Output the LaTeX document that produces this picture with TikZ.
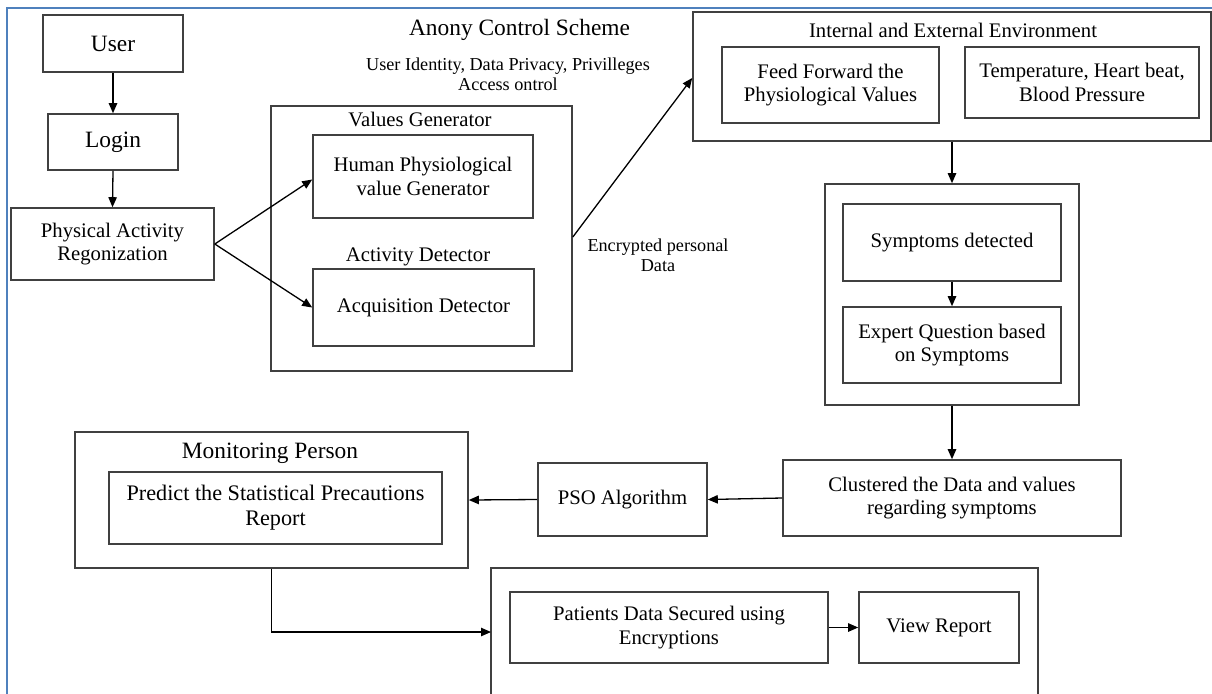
\documentclass[tikz,border=0pt]{standalone}
\usepackage{fontspec}
\setmainfont{Liberation Serif}
\usetikzlibrary{arrows.meta,calc}
\newcommand\fntbase{\fontsize{10.35pt}{11.7pt}\selectfont}
\newcommand\fntbig{\fontsize{11.7pt}{12.5pt}\selectfont}
\newcommand\fntpred{\fontsize{11.1pt}{12.5pt}\selectfont}
\newcommand\fntsmall{\fontsize{9.1pt}{10pt}\selectfont}
\definecolor{frameblue}{RGB}{79,129,189}
\begin{document}
\begin{tikzpicture}[x=0.5pt,y=-0.5pt,
  box/.style 2 args={draw=black!75, line width=0.8pt, minimum width=#1*0.5pt,
    minimum height=#2*0.5pt, inner sep=0pt, align=center, font=\fntbase},
  lbl/.style={inner sep=0pt, align=center, font=\fntbase},
  arr/.style={draw=black, line width=0.65pt, -{Triangle[length=5pt,width=4.2pt]}},
  plain/.style={draw=black, line width=0.65pt}]
\useasboundingbox (0,0) rectangle (1212,693);
\clip (0,0) rectangle (1212,693);
% frame
\draw[frameblue, line width=1.3pt] (7,700) -- (7,8) -- (1220,8);

% left column
\node[box={140}{57}, font=\fntbig] (user) at (113,43.5) {User};
\node[box={130}{56}, font=\fntbig] (login) at (113,142) {Login};
\node[box={203}{72}] (pa) at (112.5,244) {Physical Activity\\Regonization};

% values generator
\node[box={301}{265}] (vg) at (421.5,238.5) {};
\node[lbl] (vgt) at (420,119) {Values Generator};
\node[box={220}{83}] (human) at (423,176.5) {Human Physiological\\value Generator};
\node[lbl] (adt) at (418,257) {Activity Detector};
\node[box={221}{77}] (acq) at (423.5,307.5) {Acquisition Detector};

% labels
\node[lbl, font=\fntbig] (anony) at (519.5,30) {Anony Control Scheme};
\node[lbl, font=\fntsmall] (uid) at (508,74) {User Identity, Data Privacy, Privilleges\\Access ontrol};
\node[lbl, font=\fntsmall] (enc) at (658,255) {Encrypted personal\\Data};

% internal and external environment
\node[box={518}{129}] (ie) at (952,76.5) {};
\node[lbl] (iet) at (953,30) {Internal and External Environment};
\node[box={217}{76}] (feed) at (830.5,85) {Feed Forward the\\Physiological Values};
\node[box={234}{71}] (temp) at (1082,82.5) {Temperature, Heart beat,\\Blood Pressure};

% symptoms
\node[box={254}{221}] (symo) at (952,294.5) {};
\node[box={218}{77}] (symd) at (952,242.5) {Symptoms detected};
\node[box={218}{76}] (expert) at (952,345) {Expert Question based\\on Symptoms};

% lower row
\node[box={338}{76}] (clust) at (952,498) {Clustered the Data and values\\regarding symptoms};
\node[box={169}{73}] (pso) at (622.5,499.5) {PSO Algorithm};
\node[box={393}{136}] (mon) at (271.5,500) {};
\node[lbl, font=\fntbig] (mont) at (270,453) {Monitoring Person};
\node[box={333}{72}, font=\fntpred] (pred) at (275.5,508) {Predict the Statistical Precautions\\Report};

% bottom
\node[box={547}{160}] (bot) at (764.5,648) {};
\node[box={318}{71}] (pat) at (669,627.5) {Patients Data Secured using\\Encryptions};
\node[box={160}{71}] (view) at (939,627.5) {View Report};
\coordinate (botin) at (491,632);

% connectors
\draw[arr] (user.south) -- (login.north);
\draw[arr] (login.south) -- (pa.north);
\draw[arr] (pa.east) -- ($(human.west)+(0,3)$);
\draw[arr] (pa.east) -- (acq.west);
\draw[arr] ($(vg.east)+(0,-1.5)$) -- ($(ie.west)+(0,1.5)$);
\draw[arr] (ie.south) -- (symo.north);
\draw[arr] (symd.south) -- (expert.north);
\draw[arr] (symo.south) -- (clust.north);
\draw[arr] (clust.west) -- (pso.east);
\draw[arr] (pso.west) -- (mon.east);
\draw[arr] (mon.south) |- (botin);
\draw[arr] (pat.east) -- (view.west);
\end{tikzpicture}
\end{document}
